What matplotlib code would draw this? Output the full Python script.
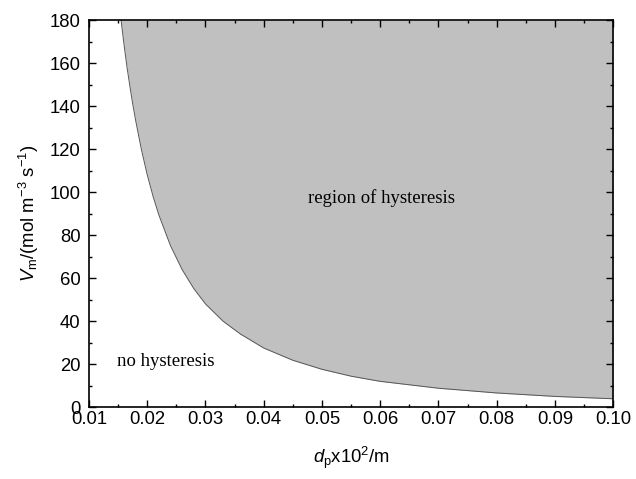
import matplotlib
matplotlib.use("Agg")
import matplotlib.pyplot as plt
from matplotlib.ticker import MultipleLocator

plt.rcParams["font.family"] = "Liberation Sans"
plt.rcParams["mathtext.fontset"] = "custom"
plt.rcParams["mathtext.rm"] = "Liberation Sans"
plt.rcParams["mathtext.it"] = "Liberation Sans:italic"

# boundary between the two regimes
d_p = [0.0155, 0.0160, 0.0165, 0.0170, 0.0175, 0.0180, 0.0190, 0.0200, 0.0210, 0.0220,
       0.0240, 0.0260, 0.0280, 0.0300, 0.0330, 0.0360, 0.0400, 0.0450, 0.0500, 0.0550,
       0.0600, 0.0700, 0.0800, 0.0900, 0.1000]
V_m = [180.0, 168.8, 158.5, 149.5, 141.0, 133.4, 119.7, 108.0, 98.0, 89.3,
       75.0, 63.9, 55.1, 48.0, 40.0, 34.0, 27.5, 21.8, 17.6, 14.4,
       12.0, 8.8, 6.6, 5.0, 3.9]

fig = plt.figure(figsize=(6.36, 4.79), dpi=100)
ax = fig.add_axes([0.140, 0.150, 0.824, 0.808])

ax.fill_between(d_p, V_m, 180, color="#c0c0c0", linewidth=0)
ax.plot(d_p, V_m, color="#555555", linewidth=0.7)

ax.text(0.0603, 97.3, "region of hysteresis", family="Liberation Serif", fontsize=13.5,
        ha="center", va="center")
ax.text(0.0231, 21, "no hysteresis", family="Liberation Serif", fontsize=13.5,
        ha="center", va="center")

ax.set_xlim(0.01, 0.10)
ax.set_ylim(0, 180)
ax.xaxis.set_major_locator(MultipleLocator(0.01))
ax.xaxis.set_minor_locator(MultipleLocator(0.005))
ax.yaxis.set_major_locator(MultipleLocator(20))
ax.yaxis.set_minor_locator(MultipleLocator(10))
ax.xaxis.set_major_formatter(plt.FormatStrFormatter("%.2f"))

ax.tick_params(which="both", direction="in", top=True, right=True, width=1.0, labelsize=13.3)
ax.tick_params(which="major", length=5)
ax.tick_params(which="minor", length=2.5)
ax.tick_params(axis="x", pad=3)
ax.tick_params(axis="y", pad=6)
for s in ax.spines.values():
    s.set_linewidth(1.2)

ax.set_xlabel(r"$d_{\rm p}$x10$^2$/m", fontsize=13.3, labelpad=12)
ax.set_ylabel(r"$V_{\rm m}$/(mol m$^{-3}$ s$^{-1}$)", fontsize=13.3, labelpad=6)

fig.savefig("out.png", dpi=100)
